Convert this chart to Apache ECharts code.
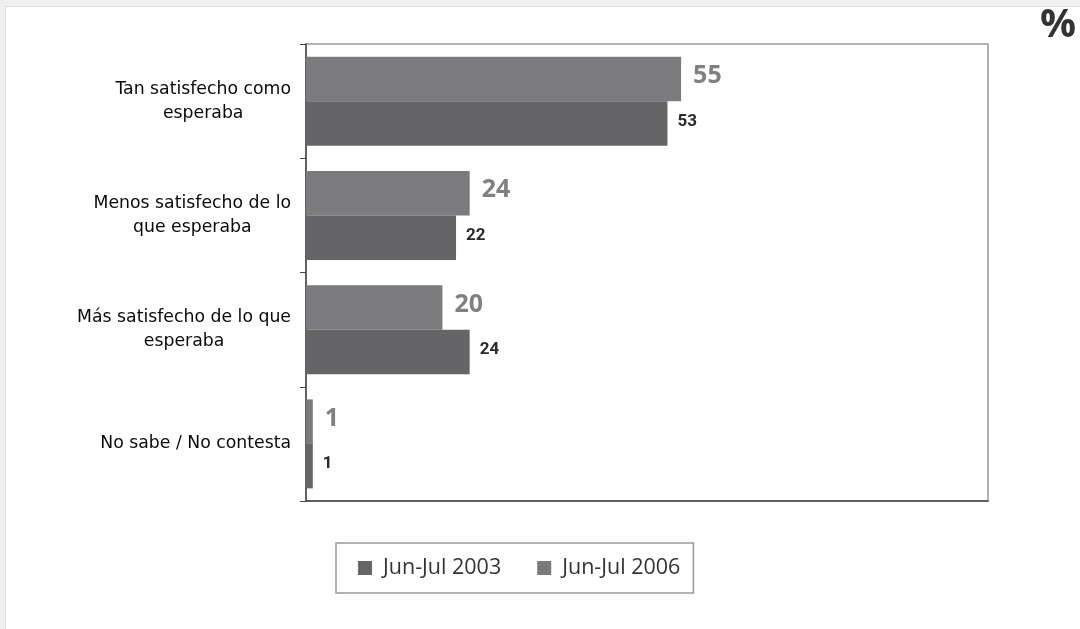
<!DOCTYPE html>
<html>
<head>
<meta charset="utf-8">
<script src="https://cdn.jsdelivr.net/npm/echarts@6/dist/echarts.min.js"></script>
<style>
html,body{margin:0;padding:0;background:#fff;}
#chart{width:1080px;height:629px;}
</style>
</head>
<body>
<div id="chart"></div>
<script>
const categories = [
  'Tan satisfecho como\nesperaba',
  'Menos satisfecho de lo\nque esperaba',
  'Más satisfecho de lo que\nesperaba',
  'No sabe / No contesta'
];
const seriesNames = ['Jun-Jul 2003', 'Jun-Jul 2006'];
const values2006 = [55, 24, 20, 1];
const values2003 = [53, 22, 24, 1];

const chart = echarts.init(document.getElementById('chart'));
chart.setOption({
  animation: false,
  backgroundColor: '#ffffff',
  grid: {
    left: 306, right: 92, top: 44, bottom: 128,
    show: true, borderColor: '#9a9a9a', borderWidth: 1.5, backgroundColor: 'transparent'
  },
  xAxis: {
    type: 'value', min: 0, max: 100,
    axisLabel: { show: false }, splitLine: { show: false }, axisTick: { show: false },
    axisLine: { show: true, lineStyle: { color: '#444', width: 1.5 } }
  },
  yAxis: {
    type: 'category', inverse: true, data: categories,
    axisLine: { show: true, lineStyle: { color: '#444', width: 1.5 } },
    axisTick: { show: true, length: 6, lineStyle: { color: '#444' } },
    axisLabel: {
      margin: 15, align: 'right',
      formatter: function (v) {
        return v.split('\n').map(function (s) { return '{c|' + s + '}'; }).join('\n');
      },
      rich: {
        c: { align: 'center', color: '#0a0a0a', fontSize: 17.3, lineHeight: 24, fontFamily: 'DejaVu Sans' }
      }
    }
  },
  legend: {
    data: seriesNames,
    left: 336, top: 543,
    orient: 'horizontal',
    borderColor: '#9a9a9a', borderWidth: 1.5,
    padding: [14, 13, 14, 22],
    itemWidth: 14, itemHeight: 14, itemGap: 36,
    icon: 'rect',
    textStyle: { fontFamily: 'Open Sans', fontSize: 21.5, color: '#333', padding: [0, 0, 0, 6] }
  },
  series: [
    {
      name: 'Jun-Jul 2006', type: 'bar', data: values2006,
      barWidth: 44.5, barGap: '0%',
      itemStyle: { color: '#7b7b7d' },
      label: {
        show: true, position: 'right', distance: 12, offset: [0, -3],
        fontFamily: 'Open Sans', fontWeight: 'bold', fontSize: 25, color: '#808080'
      }
    },
    {
      name: 'Jun-Jul 2003', type: 'bar', data: values2003,
      barWidth: 44.5, barGap: '0%',
      itemStyle: { color: '#656567' },
      label: {
        show: true, position: 'right', distance: 10, offset: [0, -2],
        fontFamily: 'Roboto', fontWeight: 'bold', fontSize: 17, color: '#2a2a2a'
      }
    }
  ],
  graphic: [
    { type: 'rect', left: 0, top: 0, shape: { width: 1080, height: 6 }, style: { fill: '#f0f0f0' }, silent: true },
    { type: 'rect', left: 0, top: 0, shape: { width: 5, height: 629 }, style: { fill: '#f0f0f0' }, silent: true },
    { type: 'line', shape: { x1: 5, y1: 6.5, x2: 1080, y2: 6.5 }, style: { stroke: '#dcdcdc', lineWidth: 1 }, silent: true },
    { type: 'line', shape: { x1: 5.5, y1: 6, x2: 5.5, y2: 629 }, style: { stroke: '#dcdcdc', lineWidth: 1 }, silent: true },
    { type: 'text', left: 1040, top: 6, style: { text: '%', fontFamily: 'Open Sans', fontWeight: 'bold', fontSize: 40, fill: '#333' }, silent: true }
  ]
});
</script>
</body>
</html>
